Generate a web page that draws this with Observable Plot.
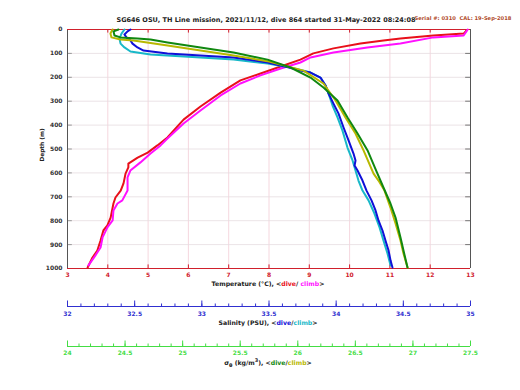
<!DOCTYPE html>
<html><head><meta charset="utf-8">
<script src="https://cdn.jsdelivr.net/npm/d3@7"></script>
<script src="https://cdn.jsdelivr.net/npm/@observablehq/plot@0.6"></script>
<style>
body{margin:0;background:#fff;}
#c{position:relative;width:520px;height:390px;font-family:"DejaVu Sans",sans-serif;font-weight:bold;}
#c svg{position:absolute;left:0;}
.t{position:absolute;white-space:nowrap;line-height:1;transform:translate(-50%,-50%);color:#222;}
</style></head><body><div id="c"></div>
<script>
// ---- tick values ----
const tempTicks = d3.range(3, 14, 1);
const depthTicks = d3.range(0, 1001, 100);
const salMajor = [32, 32.5, 33, 33.5, 34, 34.5, 35];
const salMinor = d3.range(0, 31).map(i => 32 + i / 10);
const sigMajor = [24, 24.5, 25, 25.5, 26, 26.5, 27, 27.5];
const sigMinor = d3.range(0, 36).map(i => 24 + i / 10);

// ---- temperature (°C) ----
const tempDiveDepth = [3,8,17,25,38,46,59,79,100,126,155,184,213,264,322,377,452,485,515,536,561,577,603,644,674,703,728,787,820,841,883,925,954,996];
const tempDive      = [12.9,12.88,12.83,12.08,11.26,10.84,10.27,9.60,9.10,8.78,8.29,7.79,7.29,6.80,6.30,5.88,5.48,5.23,4.99,4.74,4.51,4.51,4.44,4.39,4.32,4.19,4.14,4.07,3.99,3.89,3.82,3.74,3.62,3.50];
const tempClimbDepth = [0,8,25,33,59,75,96,117,138,163,192,226,276,339,393,456,485,519,556,590,619,644,674,715,728,757,799,828,870,912,946,987];
const tempClimb      = [12.93,12.9,12.83,12.08,11.26,10.44,9.60,9.03,8.78,8.29,7.79,7.29,6.80,6.30,5.88,5.48,5.31,5.06,4.81,4.56,4.49,4.49,4.49,4.36,4.24,4.14,4.12,3.99,3.87,3.82,3.69,3.52];

// ---- salinity (PSU) ----
const salDiveDepth = [0,8,21,33,46,59,75,88,100,109,117,138,159,172,180,201,234,268,310,351,410,464,519,548,569,590,632,674,715,757,799,841,883,925,967,996];
const salDive      = [32.469,32.447,32.424,32.439,32.469,32.484,32.521,32.566,32.744,32.990,33.236,33.489,33.650,33.735,33.809,33.883,33.921,33.943,33.980,34.017,34.055,34.092,34.129,34.144,34.137,34.159,34.196,34.226,34.263,34.293,34.315,34.345,34.367,34.390,34.405,34.419];
const salClimbDepth = [0,17,38,59,75,92,105,117,126,142,159,180,201,234,268,318,368,423,494,548,590,632,674,715,770,828,883,937,987];
const salClimb      = [32.424,32.402,32.387,32.395,32.424,32.469,32.618,32.990,33.236,33.489,33.660,33.809,33.883,33.921,33.943,33.973,34.010,34.047,34.084,34.122,34.144,34.166,34.196,34.241,34.285,34.323,34.352,34.382,34.405];

// ---- sigma-theta (kg/m^3) ----
const sigDiveDepth = [0,8,25,33,38,42,54,75,96,126,159,201,243,297,368,435,506,603,661,728,787,870,925,996];
const sigDive      = [24.443,24.400,24.408,24.460,24.608,24.721,24.869,25.155,25.442,25.737,25.937,26.110,26.223,26.345,26.432,26.519,26.606,26.692,26.744,26.805,26.849,26.892,26.918,26.953];
const sigClimbDepth = [0,17,33,42,46,67,88,109,134,172,226,297,368,435,506,603,632,674,745,812,883,937,996];
const sigClimb      = [24.391,24.373,24.382,24.460,24.573,24.869,25.155,25.442,25.750,26.050,26.223,26.328,26.414,26.501,26.571,26.658,26.701,26.753,26.805,26.849,26.892,26.918,26.953];

const rows = (ds, vs) => ds.map((d, i) => ({d, v: vs[i]}));
const fmt = d => String(+d.toFixed(1));

const RED = "#d0202c";
const style = {fontFamily: "DejaVu Sans, sans-serif", fontSize: "6px", fontWeight: "bold", background: "none", overflow: "visible"};
const frame = {width: 520, height: 295, marginTop: 29, marginBottom: 27, marginLeft: 67, marginRight: 50, style};

const c = document.getElementById("c");
function place(svg, top) { svg.style.top = top + "px"; svg.style.position = "absolute"; c.appendChild(svg); }

// main temperature plot (axes, grid)
place(Plot.plot({
  ...frame,
  x: {domain: [3, 13], axis: null},
  y: {domain: [0, 1000], reverse: true, axis: null},
  marks: [
    Plot.ruleX(tempTicks, {stroke: "#f2cdd5", strokeWidth: 0.8}),
    Plot.ruleY(depthTicks, {stroke: "#e6dcdf", strokeWidth: 0.8}),
    Plot.ruleX(tempTicks, {y1: 1000, y2: 985, stroke: RED}),
    Plot.ruleX(tempTicks, {y1: 0, y2: 15, stroke: RED}),
    Plot.ruleY(depthTicks, {x1: 3, x2: 3.12, stroke: "#999"}),
    Plot.ruleY(depthTicks, {x1: 13, x2: 12.88, stroke: "#777"}),
    Plot.ruleX([3, 13], {stroke: "#555"}),
    Plot.ruleY([0, 1000], {stroke: RED}),
    Plot.axisX({ticks: tempTicks, tickSize: 0, tickPadding: 4, fill: RED, label: null, tickFormat: fmt}),
    Plot.axisY({ticks: depthTicks, tickSize: 0, tickPadding: 5, fill: "#333", label: null, tickFormat: fmt}),
    Plot.line(rows(tempDiveDepth, tempDive), {x: "v", y: "d", stroke: "#e8101a", strokeWidth: 2}),
    Plot.line(rows(tempClimbDepth, tempClimb), {x: "v", y: "d", stroke: "#ff10ff", strokeWidth: 2})
  ]
}), 0);

// salinity overlay
place(Plot.plot({
  ...frame,
  x: {domain: [32, 35], axis: null},
  y: {domain: [0, 1000], reverse: true, axis: null},
  marks: [
    Plot.line(rows(salClimbDepth, salClimb), {x: "v", y: "d", stroke: "#18b8c8", strokeWidth: 2}),
    Plot.line(rows(salDiveDepth, salDive), {x: "v", y: "d", stroke: "#1010d8", strokeWidth: 2})
  ]
}), 0);

// density overlay
place(Plot.plot({
  ...frame,
  x: {domain: [24, 27.5], axis: null},
  y: {domain: [0, 1000], reverse: true, axis: null},
  marks: [
    Plot.line(rows(sigClimbDepth, sigClimb), {x: "v", y: "d", stroke: "#b8b800", strokeWidth: 2}),
    Plot.line(rows(sigDiveDepth, sigDive), {x: "v", y: "d", stroke: "#108810", strokeWidth: 2})
  ]
}), 0);

function secAxis(domain, major, minor, color, top, pad) {
  place(Plot.plot({
    width: 520, height: 30, marginTop: 4, marginBottom: 16, marginLeft: 67, marginRight: 50, style,
    x: {domain, axis: null},
    y: {domain: [0, 1], axis: null},
    marks: [
      Plot.ruleY([0], {stroke: color}),
      Plot.ruleX(minor, {y1: 0, y2: 0.25, stroke: color}),
      Plot.ruleX(major, {y1: 0, y2: 0.55, stroke: color}),
      Plot.axisX({ticks: major, tickSize: 0, tickPadding: pad, fill: color, label: null, tickFormat: fmt})
    ]
  }), top);
}
secAxis([32, 35], salMajor, salMinor, "#3030d0", 292, 5);
secAxis([24, 27.5], sigMajor, sigMinor, "#44dd44", 332, 4);

function label(html, x, y, size, color, extra) {
  const d = document.createElement("div");
  d.className = "t";
  d.style.left = x + "px"; d.style.top = y + "px";
  d.style.fontSize = size + "px";
  if (color) d.style.color = color;
  if (extra) d.style.transform = extra;
  d.innerHTML = html;
  c.appendChild(d);
}
label("SG646 OSU, TH Line mission, 2021/11/12, dive 864 started 31-May-2022 08:24:08", 266, 20, 6.5, "#222");
label("Serial #: 0310&nbsp; CAL: 19-Sep-2018", 463, 19, 5.2, "#b04a2a");
label("Depth (m)", 43, 145, 5.8, "#222", "translate(-50%,-50%) rotate(-90deg)");
label('Temperature (°C), &lt;<span style="color:#e8101a">dive</span>/ <span style="color:#ff10ff">climb</span>&gt;', 268, 284, 6.2);
label('Salinity (PSU), &lt;<span style="color:#1010d8">dive</span>/<span style="color:#18b8c8">climb</span>&gt;', 268, 323, 6.2);
label('σ<sub style="font-size:5px">θ</sub> (kg/m<sup style="font-size:5px">3</sup>), &lt;<span style="color:#108810">dive</span>/<span style="color:#b8b800">climb</span>&gt;', 268, 363, 6.2);
</script></body></html>
